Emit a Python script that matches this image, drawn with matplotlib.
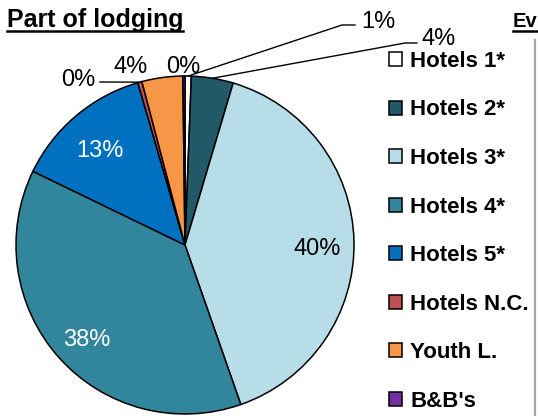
import numpy as np
import matplotlib.pyplot as plt
from matplotlib.lines import Line2D

plt.rcParams['font.family'] = ['Liberation Sans', 'DejaVu Sans']

# data
categories = ["Hotels 1*", "Hotels 2*", "Hotels 3*", "Hotels 4*", "Hotels 5*",
              "Hotels N.C.", "Youth L.", "B&B's"]
shares = [0.6, 4.0, 40.0, 37.5, 13.3, 0.4, 3.9, 0.2]
colors = ["#FFFFFF", "#215968", "#B7DEE8", "#31859C", "#0070C0",
          "#C0504D", "#F79646", "#7030A0"]

W, H = 538, 416
fig = plt.figure(figsize=(W / 100, H / 100), dpi=100)

# pie centre (185, 245) px, radius 169 px
cx, cy, r = 185, 245, 169
ax = fig.add_axes([(cx - r) / W, (H - cy - r) / H, 2 * r / W, 2 * r / H])
wedges, _ = ax.pie(shares, colors=colors, startangle=90, counterclock=False,
                   wedgeprops=dict(edgecolor="black", linewidth=1.1))
ax.set_xlim(-1, 1)
ax.set_ylim(-1, 1)
ax.set_aspect("auto")


def px(x, y):
    return ((x - cx) / r, (cy - y) / r)


total = sum(shares)
# inside labels: colour; outside labels: text pos (px), ha, leader points (px)
inside = {2: "black", 3: "white", 4: "white"}
outside = {
    0: ((361, 22), "left", [(342, 25), (355, 25)]),
    1: ((421, 39), "left", [(405, 43), (417, 43)]),
    5: ((95, 80), "right", [(100, 82)]),
    6: ((131, 67), "center", []),
    7: ((183, 67), "center", []),
}

for i, w in enumerate(wedges):
    txt = f"{round(shares[i] / total * 100):.0f}%"
    mid = np.deg2rad((w.theta1 + w.theta2) / 2)
    if i in inside:
        ax.text(0.78 * np.cos(mid), 0.78 * np.sin(mid) - 7 / r, txt, ha="center",
                va="center", fontsize=17, color=inside[i])
    else:
        pos, ha, leader = outside[i]
        tx, ty = px(*pos)
        ax.text(tx, ty, txt, ha=ha, va="center", fontsize=17, color="black",
                clip_on=False)
        if leader:
            pts = [(np.cos(mid), np.sin(mid))] + [px(*p) for p in leader]
            xs, ys = zip(*pts)
            ax.plot(xs, ys, color="black", lw=1.0, clip_on=False)

# titles with underline
fig.text(7 / W, 1 - 27 / H, "Part of lodging", fontsize=18, fontweight="bold",
         ha="left", va="baseline")
fig.add_artist(Line2D([7 / W, 183 / W], [1 - 31 / H] * 2, color="black", lw=1.8))
fig.text(513 / W, 1 - 27 / H, "Ev", fontsize=14.5, fontweight="bold",
         ha="left", va="baseline")
fig.add_artist(Line2D([513 / W, 538 / W], [1 - 31 / H] * 2, color="black", lw=1.8))

# legend
fig.legend(wedges, categories, loc="upper left",
           bbox_to_anchor=(380 / W, 1 - 42 / H), frameon=False,
           prop=dict(size=16, weight="bold"), handlelength=0.6,
           handleheight=0.6, handletextpad=0.35, labelspacing=1.24,
           borderaxespad=0)
fig.add_artist(Line2D([535 / W, 535 / W], [0, 1 - 40 / H], color="#A6A6A6", lw=1.6))

plt.savefig("out.png", dpi=100)
plt.close()
